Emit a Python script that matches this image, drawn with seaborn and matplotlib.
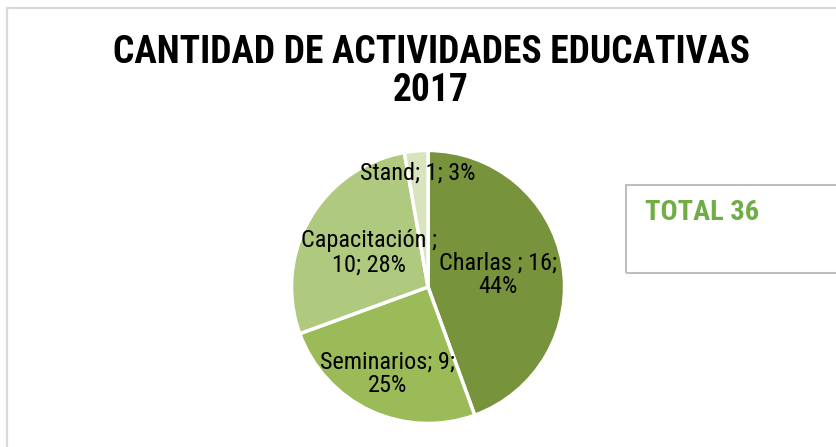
import numpy as np
import matplotlib
matplotlib.use("Agg")
import matplotlib.pyplot as plt
import seaborn as sns
from matplotlib.patches import Rectangle

# Data
categories = ["Charlas ", "Seminarios", "Capacitación ", "Stand"]
counts = [16, 9, 10, 1]
# where the label wraps onto a second line (after name / after count / none)
wraps = ["count", "count", "name", None]
colors = ["#77933C", "#9BBB59", "#AFC97F", "#D7E4BD"]
title = "CANTIDAD DE ACTIVIDADES EDUCATIVAS\n2017"
total_text = "TOTAL " + str(sum(counts))

sns.set_theme(style="white")
plt.rcParams["font.family"] = ["Roboto Condensed", "Liberation Sans", "DejaVu Sans"]

fig = plt.figure(figsize=(8.37, 4.47), dpi=100)

# outer chart border (only left and top visible)
fig.patches.append(Rectangle((7 / 837, -0.2), 1.2, 1.2 - 8 / 447, transform=fig.transFigure,
                             fill=False, edgecolor="#D9D9D9", linewidth=1.6, clip_on=False))

fig.text(0.515, 0.84, title, ha="center", va="center", fontsize=27, fontweight="bold",
         color="black", linespacing=1.05)

ax = fig.add_axes([0.3477 - 0.003, 0.0515 - 0.005, 0.3274 + 0.006, 0.613 + 0.01])
wedges, _ = ax.pie(counts, colors=colors, startangle=90, counterclock=False,
                   wedgeprops=dict(edgecolor="white", linewidth=2.5))
ax.set_xlim(-1.02, 1.02)
ax.set_ylim(-1.02, 1.02)
ax.set_aspect("equal")
ax.axis("off")

total = sum(counts)
label_r = [0.52, 0.70, 0.50, 0.84]
for w, cat, n, wrap, r in zip(wedges, categories, counts, wraps, label_r):
    pct = round(100 * n / total)
    parts = [cat + ";", str(n) + ";", str(pct) + "%"]
    if wrap == "name":
        txt = parts[0] + "\n" + parts[1] + " " + parts[2]
    elif wrap == "count":
        txt = parts[0] + " " + parts[1] + "\n" + parts[2]
    else:
        txt = " ".join(parts)
    mid = np.deg2rad((w.theta1 + w.theta2) / 2)
    ax.text(r * np.cos(mid), r * np.sin(mid), txt, ha="center", va="center",
            fontsize=17.5, color="black", linespacing=1.05)

# total box on the right
fig.patches.append(Rectangle((626 / 837, 1 - 273 / 447), 0.3, 88 / 447, transform=fig.transFigure,
                             fill=False, edgecolor="#BFBFBF", linewidth=1.5, clip_on=False))
fig.text(645 / 837, 1 - 213 / 447, total_text, ha="left", va="center", fontsize=20.5,
         fontweight="bold", color="#70AD47")

fig.savefig("out.png", dpi=100)
